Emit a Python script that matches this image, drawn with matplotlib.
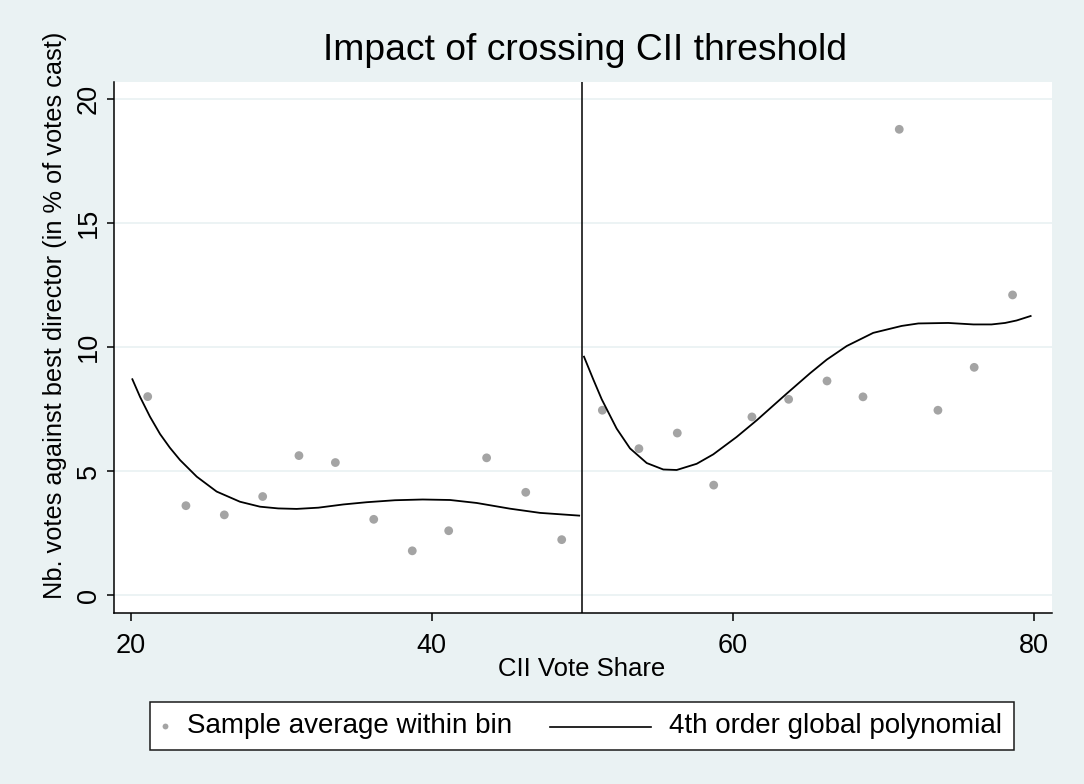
import matplotlib
matplotlib.use("Agg")
import matplotlib.pyplot as plt
from matplotlib.lines import Line2D
from matplotlib.patches import Rectangle

plt.rcParams['font.family'] = ['Liberation Sans', 'DejaVu Sans']

# Binned sample averages, below and above the 50% threshold
bin_x_left = [21.13, 23.67, 26.22, 28.77, 31.18, 33.60, 36.15, 38.71, 41.13, 43.65, 46.25, 48.64]
bin_y_left = [8.01, 3.61, 3.24, 3.98, 5.63, 5.35, 3.06, 1.79, 2.60, 5.54, 4.15, 2.24]
bin_x_right = [51.34, 53.77, 56.32, 58.74, 61.28, 63.72, 66.27, 68.66, 71.07, 73.64, 76.05, 78.60]
bin_y_right = [7.46, 5.91, 6.54, 4.44, 7.19, 7.90, 8.64, 8.00, 18.79, 7.46, 9.19, 12.11]

# Fitted 4th order polynomial on each side of the threshold
fit_x_left = [20.11, 20.62, 21.28, 21.95, 22.60, 23.28, 24.39, 25.71, 27.26, 28.59,
              29.80, 31.03, 32.47, 34.13, 35.68, 37.56, 39.40, 41.22, 42.99, 45.20,
              47.20, 49.80]
fit_y_left = [8.71, 8.00, 7.20, 6.50, 5.95, 5.45, 4.78, 4.18, 3.77, 3.57,
              3.50, 3.48, 3.53, 3.66, 3.75, 3.83, 3.86, 3.84, 3.72, 3.49,
              3.32, 3.21]
fit_x_right = [50.12, 50.74, 51.30, 52.29, 53.18, 54.29, 55.39, 56.28, 57.61, 58.71,
               60.26, 61.59, 63.59, 65.14, 66.25, 67.58, 69.34, 71.23, 72.34, 74.33,
               76.00, 77.20, 78.10, 78.87, 79.80]
fit_y_right = [9.62, 8.70, 7.90, 6.72, 5.92, 5.33, 5.07, 5.05, 5.30, 5.68,
               6.38, 7.05, 8.13, 8.95, 9.50, 10.05, 10.58, 10.86, 10.96, 10.98,
               10.92, 10.92, 10.98, 11.08, 11.26]

threshold = 50
x_ticks = [20, 40, 60, 80]
y_ticks = [0, 5, 10, 15, 20]

title = "Impact of crossing CII threshold"
x_label = "CII Vote Share"
y_label = "Nb. votes against best director (in % of votes cast)"
legend_points = "Sample average within bin"
legend_fit = "4th order global polynomial"

BG = '#eaf2f3'
DOT = '#a4a4a4'
W, H = 1084, 784


def fx(px):
    return px / W


def fy(py):
    return 1 - py / H


fig = plt.figure(figsize=(W / 100, H / 100), dpi=100, facecolor=BG)
ax = fig.add_axes([fx(114.3), fy(613.3), (1051.7 - 114.3) / W, (613.3 - 81.7) / H])
ax.set_facecolor('white')

ax.set_xlim(18.91, 81.2)
ax.set_ylim(-0.73, 20.71)
ax.set_xticks(x_ticks)
ax.set_yticks(y_ticks)
ax.yaxis.grid(True, color=BG, lw=1.3)
ax.set_axisbelow(True)

for side in ('top', 'right'):
    ax.spines[side].set_visible(False)
for side in ('left', 'bottom'):
    ax.spines[side].set_linewidth(1.1)
    ax.spines[side].set_color('black')

ax.tick_params(axis='x', length=6, width=1.1, pad=8, labelsize=19.5)
ax.tick_params(axis='y', length=5, width=1.1, pad=4, labelsize=19.5)
for lab in ax.get_yticklabels():
    lab.set_rotation(90)
    lab.set_va('center')

ax.scatter(bin_x_left, bin_y_left, s=40, color=DOT, edgecolors='none', zorder=3)
ax.scatter(bin_x_right, bin_y_right, s=40, color=DOT, edgecolors='none', zorder=3)
ax.plot(fit_x_left, fit_y_left, color='black', lw=1.3, zorder=4,
        solid_joinstyle='round')
ax.plot(fit_x_right, fit_y_right, color='black', lw=1.3, zorder=4,
        solid_joinstyle='round')
ax.axvline(threshold, color='black', lw=1.1, zorder=4)

ax.set_title(title, fontsize=26.8, x=0.502, y=1.0252, va='baseline')
ax.set_xlabel(x_label, fontsize=18.5, va='center')
ax.xaxis.set_label_coords((582 - 114.3) / 937.4, (613.3 - 669) / 531.6)
ax.set_ylabel(y_label, fontsize=18.3, va='center')
ax.yaxis.set_label_coords((55 - 114.3) / 937.4, (613.3 - 315) / 531.6)

# Legend box below the plot
fig.add_artist(Rectangle((fx(150), fy(750)), (1014 - 150) / W, (750 - 701.7) / H,
                         transform=fig.transFigure, facecolor='white',
                         edgecolor='#1a1a1a', lw=1.1, zorder=5))
fig.add_artist(Line2D([fx(165)], [fy(725.5)], marker='o', markersize=4.2,
                      color=DOT, markeredgewidth=0, linestyle='none',
                      transform=fig.transFigure, zorder=6))
fig.text(fx(186.7), fy(726), legend_points, fontsize=20, ha='left', va='center', zorder=6)
fig.add_artist(Line2D([fx(550), fx(651)], [fy(726.7), fy(726.7)], color='black', lw=1.2,
                      transform=fig.transFigure, zorder=6))
fig.text(fx(669.3), fy(726), legend_fit, fontsize=20, ha='left', va='center', zorder=6)

fig.savefig('out.png', dpi=100, facecolor=BG)
